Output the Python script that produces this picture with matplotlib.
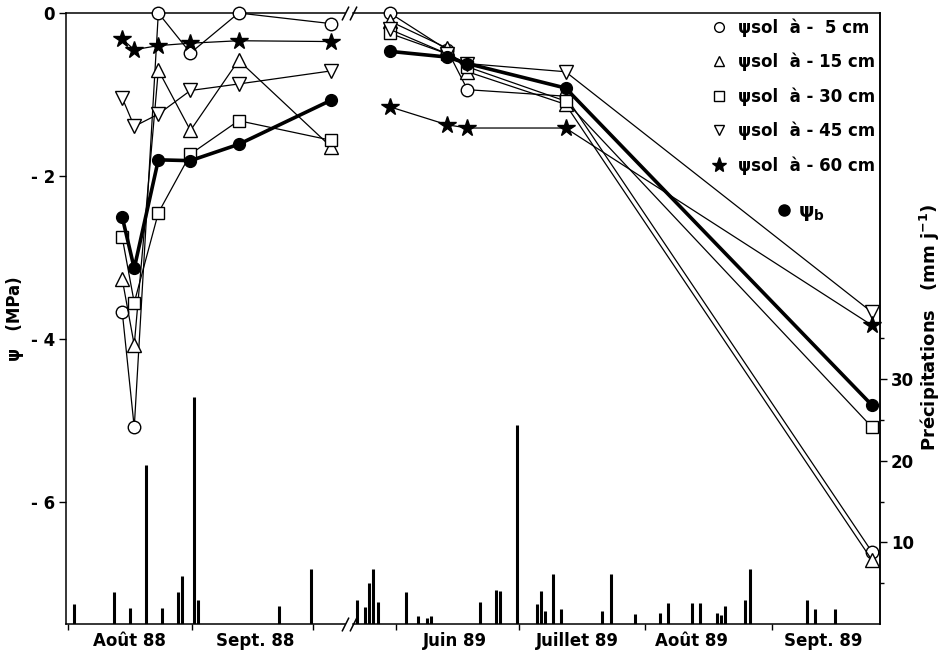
'''Potentiels hydriques du sol et de base (psi) 1988-1989 + precipitations journalieres
axe des x coupe entre oct. 88 et mai 89
'''

#%% import tools and libraries
import matplotlib
matplotlib.use('Agg')
import matplotlib.pyplot as plt
from matplotlib.lines import Line2D
import pandas as pd

plt.rcParams['font.family'] = ['DejaVu Sans']
plt.rcParams['font.weight'] = 'bold'
plt.rcParams['font.size'] = 12

#%% data (MPa, mm/j)
dates88 = ['1988-08-14', '1988-08-17', '1988-08-23', '1988-08-31', '1988-09-12', '1988-10-05']
dates89 = ['1989-05-30', '1989-06-13', '1989-06-18', '1989-07-12', '1989-09-25']

psi5_88 = [-3.66, -5.08, 0.0, -0.49, 0.0, -0.13]
psi15_88 = [-3.26, -4.07, -0.70, -1.44, -0.58, -1.64]
psi30_88 = [-2.75, -3.55, -2.45, -1.73, -1.32, -1.56]
psi45_88 = [-1.04, -1.39, -1.24, -0.95, -0.87, -0.71]
psi60_88 = [-0.32, -0.45, -0.40, -0.37, -0.34, -0.35]
psib_88 = [-2.50, -3.13, -1.80, -1.81, -1.61, -1.07]

psi5_89 = [0.0, -0.45, -0.94, -1.02, -6.61]
psi15_89 = [-0.10, -0.43, -0.72, -1.12, -6.71]
psi30_89 = [-0.25, -0.50, -0.66, -1.08, -5.08]
psi45_89 = [-0.20, -0.50, -0.62, -0.72, -3.67]
psi60_89 = [-1.15, -1.37, -1.41, -1.41, -3.83]
psib_89 = [-0.47, -0.54, -0.62, -0.92, -4.81]

rain88_dates = ['1988-08-02', '1988-08-12', '1988-08-16', '1988-08-20', '1988-08-24', '1988-08-28',
                '1988-08-29', '1988-09-01', '1988-09-02', '1988-09-22', '1988-09-30']
rain88 = [2.5, 3.9, 2.0, 19.5, 2.0, 3.9, 5.9, 27.8, 2.9, 2.2, 6.8]

rain89_dates = ['1989-05-22', '1989-05-24', '1989-05-25', '1989-05-26', '1989-05-27', '1989-06-03',
                '1989-06-06', '1989-06-08', '1989-06-09', '1989-06-21', '1989-06-25', '1989-06-26',
                '1989-06-30', '1989-07-05', '1989-07-06', '1989-07-07', '1989-07-09', '1989-07-11',
                '1989-07-21', '1989-07-23', '1989-07-29', '1989-08-04', '1989-08-06', '1989-08-12',
                '1989-08-14', '1989-08-18', '1989-08-19', '1989-08-20', '1989-08-25', '1989-08-26',
                '1989-09-09', '1989-09-11', '1989-09-16']
rain89 = [3.0, 2.1, 5.0, 6.7, 2.7, 3.9, 1.0, 0.7, 1.0, 2.7, 4.2, 4.0, 24.4, 2.5, 4.1, 1.6, 6.1, 1.8,
          1.6, 6.1, 1.2, 1.4, 2.6, 2.6, 2.6, 1.4, 1.1, 2.2, 3.0, 6.8, 2.9, 1.9, 1.9]

months88 = ['1988-08-01', '1988-09-01', '1988-10-01']
months89 = ['1989-06-01', '1989-07-01', '1989-08-01', '1989-09-01']
month_labels88 = ['Août 88', 'Sept. 88']
month_labels89 = ['Juin 89', 'Juillet 89', 'Août 89', 'Sept. 89']

legend_labels = ['ψsol  à -  5 cm', 'ψsol  à - 15 cm', 'ψsol  à - 30 cm', 'ψsol  à - 45 cm', 'ψsol  à - 60 cm']


#%% helpers
def noon(d):
    # mesures / pluies placees au milieu de la journee
    return pd.to_datetime(d) + pd.Timedelta(hours=12)

styles = [dict(marker='o', mfc='white', ms=9),
          dict(marker='^', mfc='white', ms=9.5),
          dict(marker='s', mfc='white', ms=8.5),
          dict(marker='v', mfc='white', ms=9.5),
          dict(marker='*', mfc='black', ms=13)]

def plot_psi(ax, dates, series, psib):
    x = noon(dates)
    for y, st in zip(series, styles):
        ax.plot(x, y, color='black', lw=0.9, mec='black', mew=1.0, clip_on=False, zorder=3, **st)
    ax.plot(x, psib, color='black', lw=2.6, marker='o', ms=8.5, mfc='black', mec='black',
            clip_on=False, zorder=4)

def plot_rain(ax, dates, rain):
    r = ax.twinx()
    r.vlines(noon(dates), 0, rain, color='black', lw=2.2)
    r.set_ylim(0, 74.9)
    return r


#%% figure
fig = plt.figure(figsize=(9.45, 6.52), dpi=100)
bot = 1 - 624/652
hgt = (624 - 13)/652
ax1 = fig.add_axes([66/945, bot, (345-66)/945, hgt])
ax2 = fig.add_axes([353/945, bot, (880-353)/945, hgt], sharey=ax1)

plot_psi(ax1, dates88, [psi5_88, psi15_88, psi30_88, psi45_88, psi60_88], psib_88)
plot_psi(ax2, dates89, [psi5_89, psi15_89, psi30_89, psi45_89, psi60_89], psib_89)
r1 = plot_rain(ax1, rain88_dates, rain88)
r2 = plot_rain(ax2, rain89_dates, rain89)

ax1.set_ylim(-7.49, 0)
ax1.set_xlim(pd.Timestamp('1988-07-31 12:00'), pd.Timestamp('1988-10-09'))
ax2.set_xlim(pd.Timestamp('1989-05-21 12:00'), pd.Timestamp('1989-09-27 10:00'))

# spines
ax1.spines['right'].set_visible(False)
ax2.spines['left'].set_visible(False)
for s in r1.spines.values():
    s.set_visible(False)
for s in ['left', 'top', 'bottom']:
    r2.spines[s].set_visible(False)
for a in [ax1, ax2, r2]:
    for s in a.spines.values():
        s.set_linewidth(1.1)
r1.tick_params(right=False, labelright=False)

# y axis
ax1.set_yticks([0, -2, -4, -6])
ax1.set_yticklabels(['0', '- 2', '- 4', '- 6'])
ax1.tick_params(axis='y', direction='out', length=5, width=1, pad=3)
ax1.set_ylabel('ψ   (MPa)', fontweight='bold')
ax1.yaxis.set_label_coords(-0.150, 0.5)
ax2.tick_params(axis='y', left=False, labelleft=False)

r2.set_yticks([10, 20, 30])
r2.set_yticks([5, 15, 25, 35], minor=True)
r2.tick_params(axis='y', direction='out', length=5, width=1, pad=3)
r2.tick_params(axis='y', which='minor', direction='out', length=3, width=1)
r2.set_ylabel('Précipitations   (mm j$^{\\mathregular{-1}}$)', fontweight='bold', fontsize=13)
r2.yaxis.set_label_coords(1.072, 0.485)

# x axis: ticks au debut des mois, noms au milieu
label_pos88 = ['1988-08-16 10:00', '1988-09-16 14:00']
label_pos89 = ['1989-06-15 10:00', '1989-07-15 12:00', '1989-08-12 10:00', '1989-09-13 12:00']

def month_axis(ax, months, labels, centers):
    ax.set_xticks(pd.to_datetime(months))
    ax.set_xticklabels([''] * len(months))
    ax.set_xticks(pd.to_datetime(centers), minor=True)
    ax.set_xticklabels(labels, minor=True, fontweight='bold')
    ax.tick_params(axis='x', which='major', direction='out', length=4, width=1)
    ax.tick_params(axis='x', which='minor', length=0, pad=6)

month_axis(ax1, months88, month_labels88, label_pos88)
month_axis(ax2, months89, month_labels89, label_pos89)

# coupure de l'axe
kw = dict(marker=[(-0.5, -1), (0.5, 1)], markersize=10, linestyle='none', color='k', mec='k',
          mew=1.1, clip_on=False)
ax1.plot([1, 1], [0, 1], transform=ax1.transAxes, **kw)
ax2.plot([0, 0], [0, 1], transform=ax2.transAxes, **kw)

# legende
handles = [Line2D([], [], ls='none', mec='black', mew=1.0, color='black',
                  **dict(st, ms=st['ms'] - 2)) for st in styles]
leg1 = ax2.legend(handles, legend_labels, loc='upper right', frameon=False, handlelength=1.0,
                  handletextpad=0.6, labelspacing=0.96, borderpad=0.1, borderaxespad=0.2,
                  prop={'weight': 'bold', 'size': 12})
ax2.add_artist(leg1)
hb = Line2D([], [], ls='none', marker='o', ms=8, mfc='black', mec='black')
ax2.legend([hb], ['ψ$_{\\mathregular{b}}$'], loc='center left', bbox_to_anchor=(0.80, 0.673),
           frameon=False, handlelength=1.0, handletextpad=0.2, borderpad=0, borderaxespad=0,
           prop={'weight': 'bold', 'size': 14})

fig.savefig('out.png', dpi=100)
